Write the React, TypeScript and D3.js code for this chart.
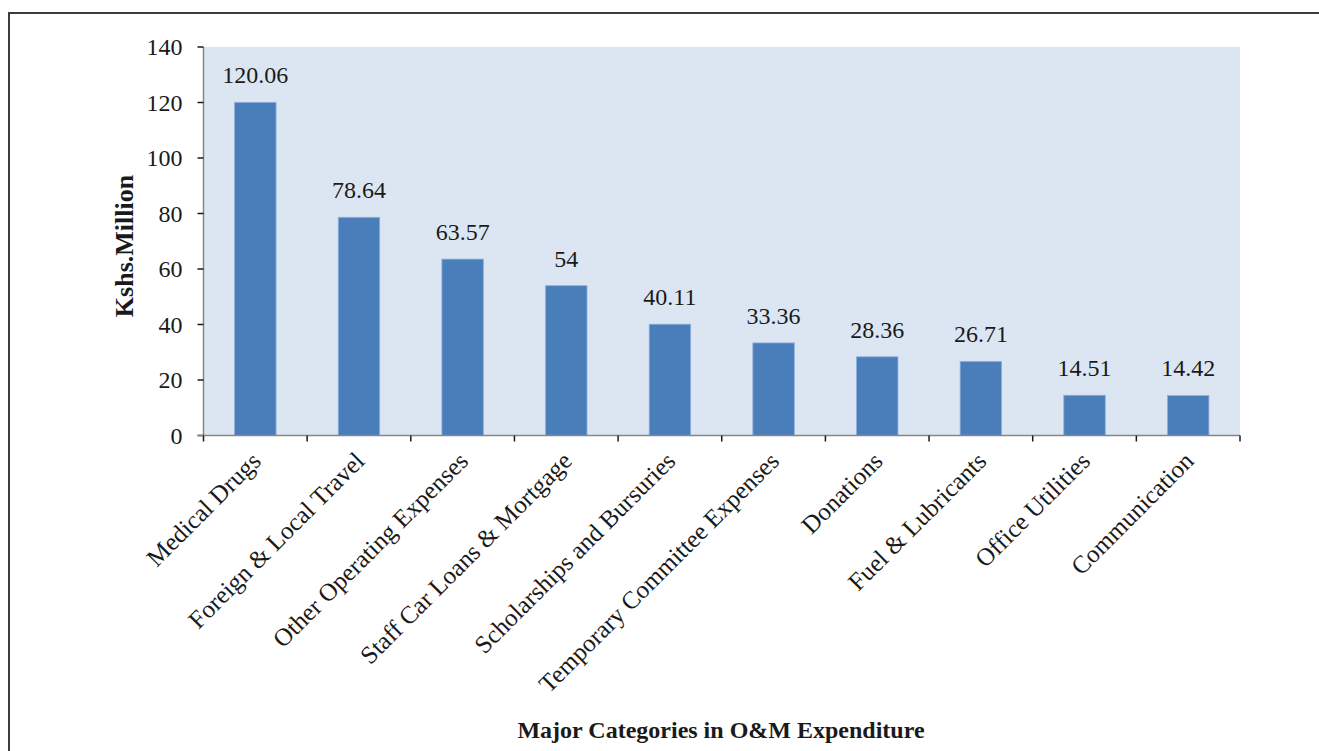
import React from "react";
import * as d3 from "d3";

const categories = [
  "Medical Drugs",
  "Foreign & Local Travel",
  "Other Operating Expenses",
  "Staff Car Loans & Mortgage",
  "Scholarships and Bursuries",
  "Temporary Committee Expenses",
  "Donations",
  "Fuel & Lubricants",
  "Office Utilities",
  "Communication",
];
const values = [120.06, 78.64, 63.57, 54, 40.11, 33.36, 28.36, 26.71, 14.51, 14.42];
const yTicks = [0, 20, 40, 60, 80, 100, 120, 140];
const yTitle = "Kshs.Million";
const xTitle = "Major Categories in O&M Expenditure";

const W = 1319;
const H = 751;
const plot = { left: 203.5, right: 1240, top: 47, bottom: 435.5 };
const FONT = "'Liberation Serif', 'Times New Roman', serif";

export default function App() {
  const x = d3
    .scaleBand<string>()
    .domain(categories)
    .range([plot.left, plot.right])
    .paddingInner(0.6)
    .paddingOuter(0.3);
  const y = d3.scaleLinear().domain([0, 140]).range([plot.bottom, plot.top]);
  const step = x.step();
  const bounds = d3.range(categories.length + 1).map((i) => plot.left + i * step);

  return (
    <svg
      width={W}
      height={H}
      style={{ position: "absolute", left: 0, top: 0, background: "#fff" }}
      fontFamily={FONT}
    >
      <rect x={9} y={13} width={W + 20} height={H + 20} fill="none" stroke="#3c3c3c" strokeWidth={2} />
      <rect
        x={plot.left}
        y={plot.top}
        width={plot.right - plot.left}
        height={plot.bottom - plot.top}
        fill="#dce6f2"
      />
      {categories.map((c, i) => (
        <rect
          key={c}
          x={x(c)}
          y={y(values[i])}
          width={x.bandwidth()}
          height={plot.bottom - y(values[i])}
          fill="#4a7ebb"
          stroke="#8db1dc"
          strokeWidth={0.8}
        />
      ))}
      {categories.map((c, i) => (
        <text
          key={"v" + c}
          x={(x(c) as number) + x.bandwidth() / 2}
          y={y(values[i]) - 19}
          textAnchor="middle"
          fontSize={24}
          fill="#1a1a1a"
        >
          {String(values[i])}
        </text>
      ))}
      {/* y axis */}
      <line x1={plot.left} x2={plot.left} y1={plot.top} y2={plot.bottom} stroke="#868686" strokeWidth={1.5} />
      {yTicks.map((t) => (
        <g key={"t" + t}>
          <line x1={plot.left - 6} x2={plot.left} y1={y(t)} y2={y(t)} stroke="#1a1a1a" strokeWidth={1.5} />
          <text x={plot.left - 21} y={y(t)} dy="0.35em" textAnchor="end" fontSize={24} fill="#1a1a1a">
            {t}
          </text>
        </g>
      ))}
      {/* x axis */}
      <line x1={plot.left - 6} x2={plot.right} y1={plot.bottom} y2={plot.bottom} stroke="#868686" strokeWidth={1.5} />
      {bounds.map((b, i) => (
        <line key={"b" + i} x1={b} x2={b} y1={plot.bottom} y2={plot.bottom + 6} stroke="#1a1a1a" strokeWidth={1.5} />
      ))}
      {categories.map((c) => {
        const cx = (x(c) as number) + x.bandwidth() / 2;
        return (
          <text
            key={"l" + c}
            transform={`translate(${cx + 7},${plot.bottom + 27}) rotate(-45)`}
            textAnchor="end"
            fontSize={25}
            fill="#1a1a1a"
          >
            {c}
          </text>
        );
      })}
      <text
        transform={`translate(133,246) rotate(-90)`}
        textAnchor="middle"
        fontSize={26}
        fontWeight="bold"
        fill="#1a1a1a"
      >
        {yTitle}
      </text>
      <text x={721} y={738} textAnchor="middle" fontSize={24} fontWeight="bold" fill="#1a1a1a">
        {xTitle}
      </text>
    </svg>
  );
}
